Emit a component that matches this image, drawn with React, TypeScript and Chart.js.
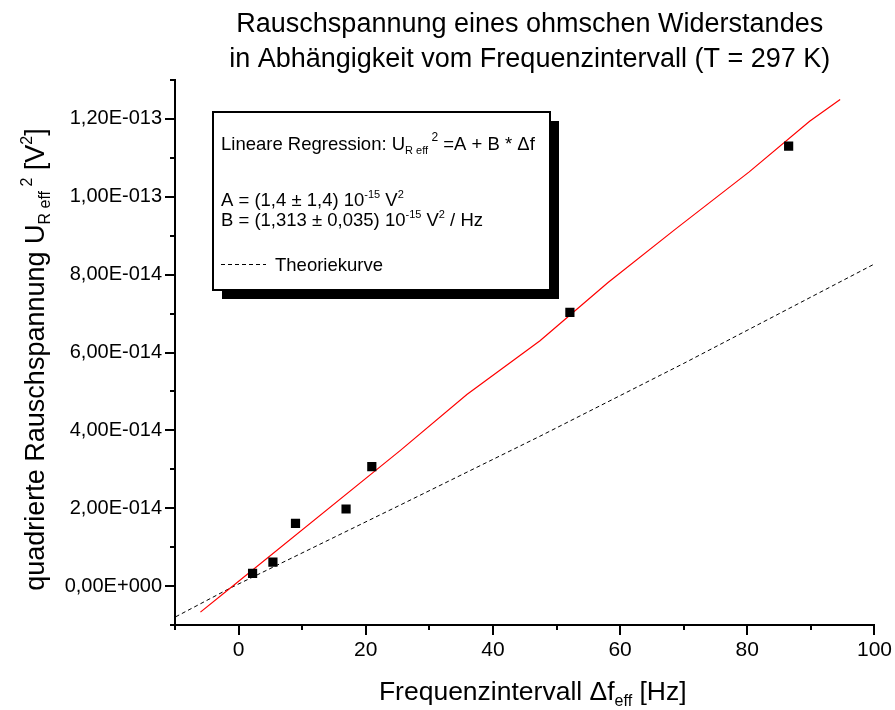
import React, { useEffect, useRef } from 'react';
import { Chart, registerables } from 'chart.js';

Chart.register(...registerables);

const FONT = '"Liberation Sans", Arial, Helvetica, sans-serif';

// Measured points: frequency interval (Hz), squared noise voltage in units of 1e-14 V²
const measuredX = [2.2, 5.4, 8.95, 16.9, 20.95, 52.1, 86.5];
const measuredY = [0.325, 0.615, 1.61, 1.98, 3.07, 7.03, 11.3];

// Linear regression line, same units
const fitX = [-6.0, -1.3, 25.4, 35.9, 47.4, 58.1, 68.7, 80.3, 89.8, 94.6];
const fitY = [-0.67, -0.05, 3.48, 4.92, 6.3, 7.8, 9.17, 10.64, 11.94, 12.5];

// Theory curve (dashed), same units
const theoryX = [-9.9, -1.3, 25.4, 47.4, 70.0, 100.3];
const theoryY = [-0.79, -0.05, 2.08, 3.85, 5.72, 8.3];

// Axis ranges (x in Hz, y in 1e-14 V²)
const xMin = -10;
const xMax = 100;
const yMin = -1;
const yMax = 13;

// Tick labels
const xTickLabels = ['0', '20', '40', '60', '80', '100'];
const yTickLabels = [
  '0,00E+000',
  '2,00E-014',
  '4,00E-014',
  '6,00E-014',
  '8,00E-014',
  '1,00E-013',
  '1,20E-013',
];

const titleLines = [
  'Rauschspannung eines ohmschen Widerstandes',
  'in Abhängigkeit vom Frequenzintervall (T = 297 K)',
];

type Seg = { t: string; s: number; dy?: number };

const xTitle: Seg[] = [
  { t: 'Frequenzintervall Δf', s: 26.5 },
  { t: 'eff', s: 16, dy: 6 },
  { t: ' [Hz]', s: 26.5 },
];

const yTitle: Seg[] = [
  { t: 'quadrierte Rauschspannung U', s: 27 },
  { t: 'R eff', s: 16, dy: 6 },
  { t: ' 2', s: 16, dy: -12 },
  { t: ' [V', s: 27 },
  { t: '2', s: 16, dy: -12 },
  { t: ']', s: 27 },
];

const legendLine1: Seg[] = [
  { t: 'Lineare Regression: U', s: 18.5 },
  { t: 'R eff', s: 11, dy: 4 },
  { t: ' 2', s: 12, dy: -9 },
  { t: ' =A + B * Δf', s: 18.5 },
];
const legendLine2: Seg[] = [
  { t: 'A = (1,4 ± 1,4) 10', s: 18.5 },
  { t: '-15', s: 11, dy: -8 },
  { t: ' V', s: 18.5 },
  { t: '2', s: 11, dy: -8 },
];
const legendLine3: Seg[] = [
  { t: 'B = (1,313 ± 0,035) 10', s: 18.5 },
  { t: '-15', s: 11, dy: -8 },
  { t: ' V', s: 18.5 },
  { t: '2', s: 11, dy: -8 },
  { t: ' / Hz', s: 18.5 },
];
const legendTheory = 'Theoriekurve';

function segWidth(ctx: CanvasRenderingContext2D, segs: Seg[]) {
  let w = 0;
  for (const g of segs) {
    ctx.font = `${g.s}px ${FONT}`;
    w += ctx.measureText(g.t).width;
  }
  return w;
}

function drawSegs(ctx: CanvasRenderingContext2D, segs: Seg[], x: number, y: number) {
  let cx = x;
  for (const g of segs) {
    ctx.font = `${g.s}px ${FONT}`;
    ctx.fillText(g.t, cx, y + (g.dy ?? 0));
    cx += ctx.measureText(g.t).width;
  }
}

const decorPlugin = {
  id: 'decor',
  afterDraw(chart: any) {
    const ctx: CanvasRenderingContext2D = chart.ctx;
    const xs = chart.scales.x;
    const ys = chart.scales.y;
    const { left, right, top, bottom } = chart.chartArea;
    ctx.save();

    // tick marks (major & minor), outward
    ctx.strokeStyle = '#000';
    ctx.lineWidth = 2;
    xs.ticks.forEach((t: any) => {
      const px = Math.round(xs.getPixelForValue(t.value));
      const len = Math.round(t.value) % 20 === 0 ? 10 : 5;
      ctx.beginPath();
      ctx.moveTo(px, bottom);
      ctx.lineTo(px, bottom + len);
      ctx.stroke();
    });
    ys.ticks.forEach((t: any) => {
      const py = Math.round(ys.getPixelForValue(t.value));
      const len = Math.round(t.value) % 2 === 0 ? 10 : 5;
      ctx.beginPath();
      ctx.moveTo(left, py);
      ctx.lineTo(left - len, py);
      ctx.stroke();
    });

    ctx.fillStyle = '#000';
    ctx.textBaseline = 'alphabetic';

    // title
    ctx.textAlign = 'center';
    ctx.font = `27px ${FONT}`;
    const cx = (left + right) / 2 + 5;
    ctx.fillText(titleLines[0], cx, 32);
    ctx.fillText(titleLines[1], cx, 67);

    ctx.textAlign = 'left';
    // x axis title
    const xw = segWidth(ctx, xTitle);
    drawSegs(ctx, xTitle, (left + right) / 2 + 8 - xw / 2, 700);

    // y axis title
    ctx.save();
    ctx.translate(44, (top + bottom) / 2 + 7);
    ctx.rotate(-Math.PI / 2);
    const yw = segWidth(ctx, yTitle);
    drawSegs(ctx, yTitle, -yw / 2, 0);
    ctx.restore();

    // legend box with shadow
    const bx = 213, by = 112, bw = 337, bh = 178;
    ctx.fillStyle = '#000';
    ctx.fillRect(bx + 9, by + 9, bw, bh);
    ctx.fillStyle = '#fff';
    ctx.fillRect(bx, by, bw, bh);
    ctx.strokeStyle = '#000';
    ctx.lineWidth = 2;
    ctx.strokeRect(bx, by, bw, bh);

    ctx.fillStyle = '#000';
    drawSegs(ctx, legendLine1, 221, 150);
    drawSegs(ctx, legendLine2, 221, 206);
    drawSegs(ctx, legendLine3, 221, 226);

    ctx.lineWidth = 1;
    ctx.setLineDash([4, 3]);
    ctx.beginPath();
    ctx.moveTo(221, 264.5);
    ctx.lineTo(266, 264.5);
    ctx.stroke();
    ctx.setLineDash([]);
    ctx.font = `18.5px ${FONT}`;
    ctx.fillText(legendTheory, 275, 271);

    ctx.restore();
  },
};

export default function App() {
  const canvasRef = useRef<HTMLCanvasElement | null>(null);

  useEffect(() => {
    if (!canvasRef.current) return;
    const chart = new Chart(canvasRef.current, {
      type: 'scatter',
      data: {
        datasets: [
          {
            label: 'Messwerte',
            data: measuredX.map((x, i) => ({ x, y: measuredY[i] })),
            pointStyle: 'rect',
            pointRadius: 6.5,
            pointBorderWidth: 0,
            backgroundColor: '#000',
            borderColor: '#000',
            showLine: false,
          },
          {
            label: 'Lineare Regression',
            data: fitX.map((x, i) => ({ x, y: fitY[i] })),
            showLine: true,
            borderColor: '#ff0000',
            borderWidth: 1.2,
            pointRadius: 0,
            tension: 0,
          },
          {
            label: 'Theoriekurve',
            data: theoryX.map((x, i) => ({ x, y: theoryY[i] })),
            showLine: true,
            borderColor: '#000',
            borderWidth: 1,
            borderDash: [4, 3],
            pointRadius: 0,
            tension: 0,
          },
        ],
      },
      options: {
        responsive: false,
        animation: false,
        devicePixelRatio: 1,
        layout: { padding: { left: 0, top: 80, right: 20, bottom: 0 } },
        plugins: {
          legend: { display: false },
          title: { display: false },
          tooltip: { enabled: false },
        },
        scales: {
          x: {
            type: 'linear',
            position: 'bottom',
            min: xMin,
            max: xMax,
            ticks: {
              stepSize: 10,
              maxTicksLimit: 20,
              autoSkip: false,
              maxRotation: 0,
              padding: 3,
              color: '#000',
              font: { family: FONT, size: 21 },
              callback: (v: any) => {
                const n = Math.round(Number(v));
                return n % 20 === 0 && n >= 0 ? xTickLabels[n / 20] : '';
              },
            },
            grid: {
              drawOnChartArea: false,
              drawTicks: true,
              tickLength: 10,
              tickColor: 'rgba(0,0,0,0)',
            },
            border: { color: '#000', width: 2 },
            afterFit: (s: any) => {
              s.height = 85;
            },
          },
          y: {
            type: 'linear',
            position: 'left',
            min: yMin,
            max: yMax,
            ticks: {
              stepSize: 1,
              maxTicksLimit: 20,
              autoSkip: false,
              padding: 3,
              color: '#000',
              font: { family: FONT, size: 20 },
              callback: (v: any) => {
                const n = Math.round(Number(v));
                return n % 2 === 0 && n >= 0 ? yTickLabels[n / 2] : '';
              },
            },
            grid: {
              drawOnChartArea: false,
              drawTicks: true,
              tickLength: 10,
              tickColor: 'rgba(0,0,0,0)',
            },
            border: { color: '#000', width: 2 },
            afterFit: (s: any) => {
              s.width = 175;
            },
          },
        },
      },
      plugins: [decorPlugin],
    });
    return () => chart.destroy();
  }, []);

  return (
    <div style={{ position: 'absolute', left: 0, top: 0, width: 895, height: 710, background: '#fff' }}>
      <canvas ref={canvasRef} width={895} height={710} />
    </div>
  );
}
